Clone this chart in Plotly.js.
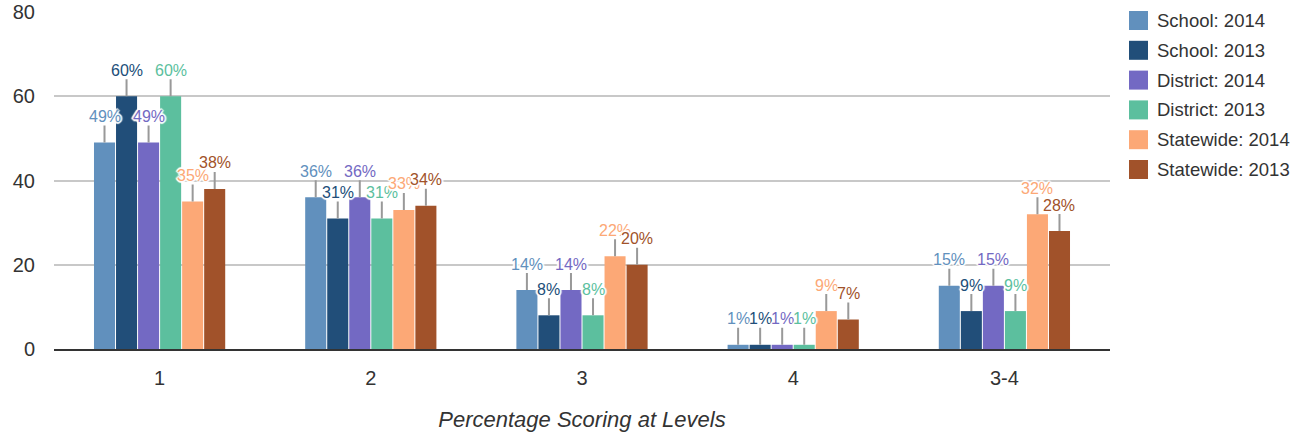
<!DOCTYPE html>
<html>
<head>
<meta charset="utf-8">
<script src="https://cdn.plot.ly/plotly-3.0.1.min.js"></script>
<style>
  html, body { margin: 0; padding: 0; background: #fff; }
  #chart { width: 1308px; height: 439px; }
</style>
</head>
<body>
<div id="chart"></div>
<script>
// ---- Data ----
const categories = ['1', '2', '3', '4', '3-4'];
const seriesNames = ['School: 2014', 'School: 2013', 'District: 2014', 'District: 2013', 'Statewide: 2014', 'Statewide: 2013'];
const school2014 = [49, 36, 14, 1, 15];
const school2013 = [60, 31, 8, 1, 9];
const district2014 = [49, 36, 14, 1, 15];
const district2013 = [60, 31, 8, 1, 9];
const statewide2014 = [35, 33, 22, 9, 32];
const statewide2013 = [38, 34, 20, 7, 28];
const yTicks = [0, 20, 40, 60, 80];
const xAxisTitle = 'Percentage Scoring at Levels';

// ---- Styles ----
const seriesValues = [school2014, school2013, district2014, district2013, statewide2014, statewide2013];
const colors = ['#6190BD', '#214E79', '#7369C3', '#5CBF9E', '#FCA876', '#A1522A'];
const FONT = '"Liberation Sans", Arial, Helvetica, sans-serif';
const W = 1308, H = 439;
const M = {l: 54, r: 198, t: 12, b: 90};
const bargap = 0.374, bargroupgap = 0.045;
const nS = seriesValues.length;
const slot = (1 - bargap) / nS;
const halo = 'white 1px 1px 1px, white -1px -1px 1px, white 1px -1px 1px, white -1px 1px 1px, white 0px 2px 1px, white 0px -2px 1px, white 2px 0px 1px, white -2px 0px 1px';

const traces = seriesValues.map((vals, s) => ({
  type: 'bar',
  name: seriesNames[s],
  x: categories,
  y: vals,
  marker: {color: colors[s], line: {width: 0}},
  hoverinfo: 'name+y',
  showlegend: false
}));

const annotations = [];
categories.forEach((c, i) => {
  seriesValues.forEach((vals, s) => {
    annotations.push({
      x: i + (s - (nS - 1) / 2) * slot,
      y: vals[i],
      xref: 'x', yref: 'y',
      text: vals[i] + '%',
      showarrow: true,
      arrowhead: 0,
      arrowwidth: 2,
      arrowcolor: '#999999',
      ax: 0, ay: -26,
      standoff: 0,
      borderpad: 0,
      font: {family: FONT, size: 16, color: colors[s], shadow: halo}
    });
  });
});

// ---- Custom legend (paper coords computed from pixels) ----
const pw = W - M.l - M.r, ph = H - M.t - M.b;
const px2x = px => (px - M.l) / pw;
const py2y = py => 1 - (py - M.t) / ph;
const shapes = [];
seriesNames.forEach((n, s) => {
  const cy = 20.5 + s * 29.8;
  shapes.push({
    type: 'rect', xref: 'paper', yref: 'paper',
    x0: px2x(1129), x1: px2x(1148), y0: py2y(cy + 9.5), y1: py2y(cy - 9.5),
    fillcolor: colors[s], line: {width: 0}
  });
  annotations.push({
    xref: 'paper', yref: 'paper',
    x: px2x(1155), y: py2y(cy),
    xanchor: 'left', yanchor: 'middle',
    text: n, showarrow: false,
    font: {family: FONT, size: 18.5, color: '#333333'}
  });
});

const layout = {
  width: W, height: H,
  margin: M,
  paper_bgcolor: '#ffffff',
  plot_bgcolor: '#ffffff',
  barmode: 'group',
  bargap: bargap,
  bargroupgap: bargroupgap,
  showlegend: false,
  font: {family: FONT, color: '#333333'},
  xaxis: {
    type: 'category',
    showgrid: false,
    showline: true, linecolor: '#333333', linewidth: 2,
    ticks: '',
    ticklabelstandoff: 10,
    tickfont: {family: FONT, size: 20, color: '#333333'},
    title: {text: xAxisTitle, font: {family: FONT, size: 22, color: '#333333', style: 'italic'}, standoff: 24},
    automargin: false,
    fixedrange: true
  },
  yaxis: {
    range: [0, 80],
    tickvals: yTicks,
    showgrid: true, gridcolor: '#C8C8C8', gridwidth: 2,
    zeroline: false,
    showline: false,
    ticks: '',
    ticklabelstandoff: 18,
    tickfont: {family: FONT, size: 20, color: '#333333'},
    automargin: false,
    fixedrange: true
  },
  annotations: annotations,
  shapes: shapes
};

Plotly.newPlot('chart', traces, layout, {displayModeBar: false, staticPlot: true});
</script>
</body>
</html>
